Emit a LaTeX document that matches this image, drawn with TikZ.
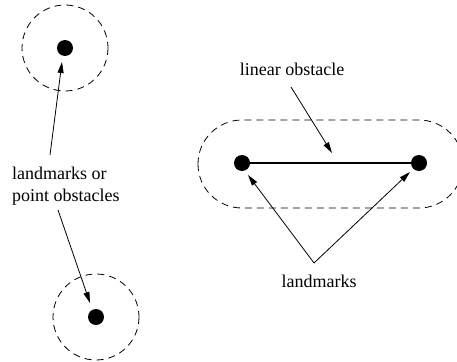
\documentclass[tikz,border=0pt]{standalone}
\usepackage{fontspec}
\setmainfont{Liberation Serif}
\usetikzlibrary{arrows.meta}
\begin{document}
\begin{tikzpicture}[x=1pt,y=-1pt,
  dot/.style={circle,fill=black,inner sep=0pt,minimum size=16pt},
  zone/.style={draw,dash pattern=on 7pt off 5pt,line width=0.8pt},
  pointer/.style={draw,line width=0.8pt,-{Triangle[length=11pt,width=6pt]}},
  lbl/.style={inner sep=0pt,font=\fontsize{18}{21.6}\selectfont}]
\clip (0,0) rectangle (457,361);
\useasboundingbox (0,0) rectangle (457,361);
% point obstacles
\node[dot] (p1) at (65,48) {};
\node[dot] (p2) at (96,317) {};
\draw[zone] (p1.center) circle (43);
\draw[zone] (p2.center) circle (43);
\node[lbl,align=left,anchor=north west] (lp) at (12,167) {landmarks or\\point obstacles};
\coordinate (a1s) at (50,155);
\coordinate (a1e) at (62,62);
\coordinate (a2s) at (58,210);
\coordinate (a2e) at (90,303);
\draw[pointer] (a1s) -- (a1e);
\draw[pointer] (a2s) -- (a2e);
% linear obstacle
\node[dot] (q1) at (242,163) {};
\node[dot] (q2) at (419,163) {};
\draw[line width=2.5pt] (q1.center) -- (q2.center);
\draw[zone,rounded corners=44pt] (198,120) rectangle (463,208);
\node[lbl,anchor=base] (ll) at (292,75) {linear obstacle};
\coordinate (b1s) at (291,87);
\coordinate (b1e) at (332,153);
\draw[pointer] (b1s) -- (b1e);
\node[lbl,anchor=base] (lm) at (319,287) {landmarks};
\coordinate (apex) at (314,263);
\coordinate (c1e) at (248,175);
\coordinate (c2e) at (410,172);
\draw[pointer] (apex) -- (c1e);
\draw[pointer] (apex) -- (c2e);
\end{tikzpicture}
\end{document}
